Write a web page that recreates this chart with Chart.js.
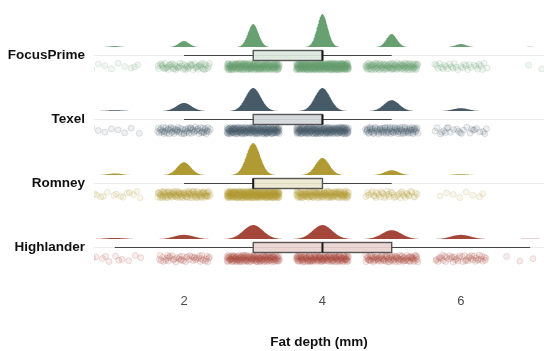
<!DOCTYPE html>
<html>
<head>
<meta charset="utf-8">
<script src="https://cdn.jsdelivr.net/npm/chart.js@4.4.1/dist/chart.umd.min.js"></script>
<style>
  html, body { margin: 0; padding: 0; background: #fff; }
  #wrap { width: 544px; height: 351px; }
</style>
</head>
<body>
<div id="wrap"><canvas id="rain"></canvas></div>
<script>
const breeds = ["FocusPrime", "Texel", "Romney", "Highlander"];
const depths = [1, 2, 3, 4, 5, 6, 7];

// animals recorded at each fat depth (mm), per breed
const focusPrimeCounts = [10, 60, 230, 330, 130, 30, 2];
const texelCounts      = [8, 70, 200, 200, 95, 25, 0];
const romneyCounts     = [15, 120, 300, 160, 45, 8, 0];
const highlanderCounts = [12, 45, 150, 150, 95, 45, 3];

// kernel bandwidth of each breed's density
const bandwidths = [0.076, 0.11, 0.10, 0.14];
const xTicks = [2, 4, 6];

const breedCounts = [focusPrimeCounts, texelCounts, romneyCounts, highlanderCounts];
const colors = ["#68a072", "#465a68", "#b09a34", "#a5463a"];

// layout in pixels
const ROW_PX = 64;                   // distance between breed rows
const DENS_BASE = 8;                 // cloud sits this far above the row line
const CLOUD_PX = [33, 23, 32, 14];   // height of each breed's tallest peak
const PT_NEAR = 8, PT_FAR = 15;
const JITTER = 0.38;
const BOX_HALF = 5;

const rowOf = (i) => breeds.length - i;

function rgba(hex, a){
  const n = parseInt(hex.slice(1), 16);
  return `rgba(${n >> 16},${(n >> 8) & 255},${n & 255},${a})`;
}

function kde(counts, bw, x){
  let n = 0, s = 0;
  counts.forEach((c, j) => {
    n += c;
    const z = (x - depths[j]) / bw;
    s += c * Math.exp(-0.5 * z * z);
  });
  return s / (n * bw * Math.sqrt(2 * Math.PI));
}

function quantile(sorted, p){
  const h = (sorted.length - 1) * p;
  const lo = Math.floor(h);
  return sorted[lo] + (h - lo) * ((sorted[lo + 1] ?? sorted[lo]) - sorted[lo]);
}

function boxStats(counts){
  const vals = [];
  counts.forEach((c, j) => { for(let i = 0; i < c; i++) vals.push(depths[j]); });
  const q1 = quantile(vals, 0.25), med = quantile(vals, 0.5), q3 = quantile(vals, 0.75);
  const iqr = q3 - q1;
  const inside = vals.filter((v) => v >= q1 - 1.5 * iqr && v <= q3 + 1.5 * iqr);
  return { q1, med, q3, lo: inside[0], hi: inside[inside.length - 1] };
}

function halton(k, b){
  let f = 1, r = 0;
  while(k > 0){ f /= b; r += f * (k % b); k = Math.floor(k / b); }
  return r;
}

// Halton jitter so the rain is spread evenly and stays put between renders
function rainPoints(counts, row, seed){
  const pts = [];
  let k = seed;
  counts.forEach((c, j) => {
    for(let i = 0; i < c; i++, k++){
      const u = halton(k, 2), w = halton(k, 3);
      pts.push({
        x: depths[j] + (u - 0.5) * 2 * JITTER,
        y: row - (PT_NEAR + w * (PT_FAR - PT_NEAR)) / ROW_PX
      });
    }
  });
  return pts;
}

const grid = [];
for(let x = 0.7; x <= 7.2; x += 0.004) grid.push(x);

const datasets = [];
breedCounts.forEach((counts, i) => {
  const row = rowOf(i);
  const base = row + DENS_BASE / ROW_PX;
  const dens = grid.map((x) => kde(counts, bandwidths[i], x));
  const peak = Math.max(...dens);
  datasets.push({
    type: "line",
    data: grid.map((x, k) => ({ x, y: base + dens[k] / peak * CLOUD_PX[i] / ROW_PX })),
    backgroundColor: colors[i],
    borderColor: "rgba(0,0,0,0)",
    borderWidth: 0,
    pointRadius: 0,
    fill: { value: base }
  });
  datasets.push({
    type: "scatter",
    data: rainPoints(counts, row, 7 + i * 1000),
    pointRadius: 3,
    pointBackgroundColor: rgba(colors[i], 0.09),
    pointBorderColor: rgba(colors[i], 0.17),
    pointBorderWidth: 1
  });
});

const boxPlugin = {
  id: "breedBoxes",
  afterDatasetsDraw(chart){
    const { ctx, scales: { x, y } } = chart;
    ctx.save();
    breedCounts.forEach((counts, i) => {
      const s = boxStats(counts);
      const cy = Math.round(y.getPixelForValue(rowOf(i))) + 0.5;
      const xl = x.getPixelForValue(s.lo), xh = x.getPixelForValue(s.hi);
      const x1 = x.getPixelForValue(s.q1), x3 = x.getPixelForValue(s.q3);
      const xm = x.getPixelForValue(s.med);

      ctx.strokeStyle = "#444";
      ctx.lineWidth = 1.2;
      ctx.beginPath();
      ctx.moveTo(xl, cy); ctx.lineTo(x1, cy);
      ctx.moveTo(x3, cy); ctx.lineTo(xh, cy);
      ctx.stroke();

      ctx.fillStyle = rgba(colors[i], 0.22);
      ctx.fillRect(x1, cy - BOX_HALF, x3 - x1, BOX_HALF * 2);
      ctx.strokeStyle = "#555";
      ctx.lineWidth = 1.4;
      ctx.strokeRect(x1, cy - BOX_HALF, x3 - x1, BOX_HALF * 2);

      ctx.strokeStyle = "#1a1a1a";
      ctx.lineWidth = 2;
      ctx.beginPath();
      ctx.moveTo(xm, cy - BOX_HALF); ctx.lineTo(xm, cy + BOX_HALF);
      ctx.stroke();
    });
    ctx.restore();
  }
};

Chart.defaults.font.family = "'Liberation Sans', Arial, sans-serif";

new Chart(document.getElementById("rain"), {
  data: { datasets },
  plugins: [boxPlugin],
  options: {
    responsive: true,
    maintainAspectRatio: false,
    animation: false,
    devicePixelRatio: 1,
    layout: { padding: 0, autoPadding: false },
    plugins: { legend: { display: false }, tooltip: { enabled: false } },
    scales: {
      x: {
        type: "linear",
        min: 0.7,
        max: 7.2,
        grid: { display: false, drawTicks: false },
        border: { display: false },
        afterBuildTicks: (s) => { s.ticks = xTicks.map((v) => ({ value: v })); },
        afterFit: (s) => { s.height = 69; s.paddingLeft = 0; s.paddingRight = 0; },
        ticks: { padding: 12, color: "#4d4d4d", font: { size: 13 } },
        title: {
          display: true,
          text: "Fat depth (mm)",
          color: "#111",
          font: { size: 13.5, weight: "bold" },
          padding: 1
        }
      },
      y: {
        type: "linear",
        min: 0.454,
        max: 4.86,
        afterBuildTicks: (s) => { s.ticks = breeds.map((b, i) => ({ value: rowOf(i) })); },
        afterFit: (s) => { s.width = 94; s.paddingTop = 0; s.paddingBottom = 0; },
        grid: { color: "#ebebeb", lineWidth: 1, drawTicks: false },
        border: { display: false },
        ticks: {
          padding: 9,
          color: "#111",
          font: { size: 13.5, weight: "bold" },
          callback: (v) => breeds[breeds.length - v]
        }
      }
    }
  }
});
</script>
</body>
</html>
